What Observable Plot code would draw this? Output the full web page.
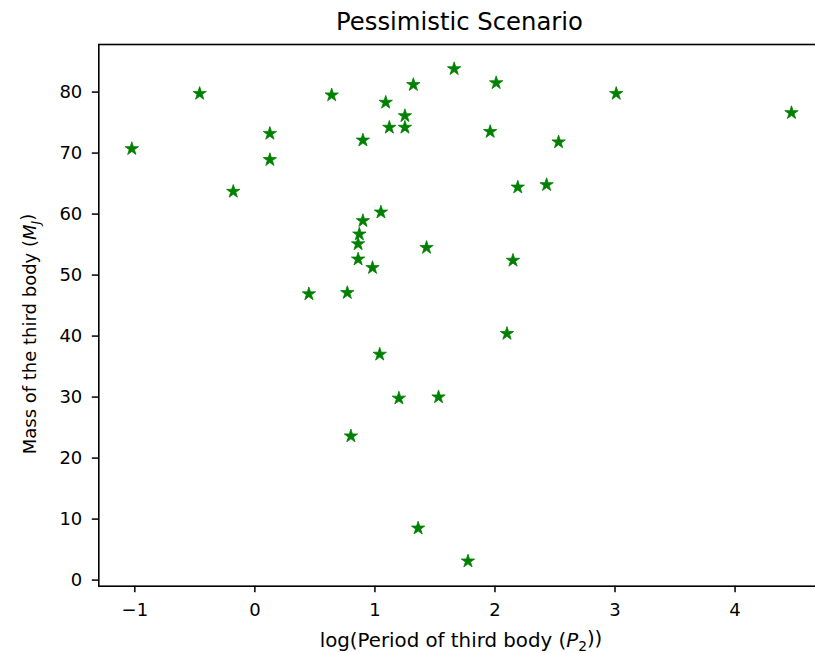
<!DOCTYPE html>
<html>
<head>
<meta charset="utf-8">
<script src="https://cdn.jsdelivr.net/npm/d3@7"></script>
<script src="https://cdn.jsdelivr.net/npm/@observablehq/plot@0.6"></script>
<style>
  html, body { margin: 0; padding: 0; background: #fff; overflow: hidden; }
  body { font-family: "DejaVu Sans", sans-serif; width: 815px; height: 653px; }
  #title {
    width: 815px; height: 38px; box-sizing: border-box;
    padding-top: 6px; padding-left: 104px;
    line-height: 32px; font-size: 24.3px; color: #000; text-align: center;
    white-space: nowrap;
  }
  #chart svg { display: block; }
</style>
</head>
<body>
<div id="title">Pessimistic Scenario</div>
<div id="chart"></div>
<script>
// log(Period of third body (P2))
const logPeriod = [
  -1.025, -0.46, -0.18, 0.125, 0.125, 0.45, 0.64, 0.77, 0.80, 0.86,
  0.86, 0.87, 0.90, 0.90, 0.98, 1.04, 1.05, 1.09, 1.12, 1.20,
  1.25, 1.25, 1.32, 1.36, 1.43, 1.53, 1.66, 1.775, 1.96, 2.01,
  2.10, 2.15, 2.19, 2.43, 2.53, 3.01, 4.47
];
// Mass of the third body (MJ)
const mass = [
  70.7, 79.75, 63.7, 73.2, 68.9, 46.9, 79.5, 47.1, 23.6, 52.6,
  55.1, 56.7, 58.9, 72.1, 51.2, 37.0, 60.3, 78.3, 74.2, 29.8,
  76.1, 74.2, 81.2, 8.5, 54.5, 30.0, 83.8, 3.1, 73.5, 81.5,
  40.4, 52.4, 64.4, 64.8, 71.8, 79.75, 76.6
];
const xTicks = [-1, 0, 1, 2, 3, 4];
const yTicks = [0, 10, 20, 30, 40, 50, 60, 70, 80];
const xDomain = [-1.3, 4.72];
const yDomain = [-1.0, 87.8];

const points = logPeriod.map((x, i) => ({x, y: mass[i]}));
const fmt = d => (d < 0 ? "\u2212" + Math.abs(d) : String(d));

const plot = Plot.plot({
  width: 815,
  height: 615,
  marginLeft: 98.3,
  marginRight: -6,
  marginTop: 6,
  marginBottom: 67.3,
  style: {fontFamily: "DejaVu Sans, sans-serif", fontSize: "18px", color: "#000", background: "#fff"},
  x: {domain: xDomain, label: null},
  y: {domain: yDomain, label: null},
  marks: [
    Plot.dot(points, {x: "x", y: "y", symbol: "star", r: 4.2, fill: "green", stroke: "green", strokeWidth: 0.8}),
    Plot.axisX({ticks: xTicks, tickFormat: fmt, tickSize: 6.5, tickPadding: 11, strokeWidth: 1.5, label: null}),
    Plot.axisY({ticks: yTicks, tickFormat: fmt, tickSize: 6.5, tickPadding: 10, strokeWidth: 1.5, label: null}),
    Plot.frame({stroke: "#000", strokeWidth: 1.6})
  ]
});

document.getElementById("chart").appendChild(plot);

const svg = d3.select(plot);
// x-axis label
const xl = svg.append("text")
  .attr("x", 461).attr("y", 608.5)
  .attr("text-anchor", "middle")
  .attr("font-family", "DejaVu Sans, sans-serif")
  .attr("font-size", 19.8).attr("fill", "#000");
xl.append("tspan").text("log(Period of third body (");
xl.append("tspan").attr("font-style", "italic").text("P");
xl.append("tspan").attr("font-size", 13.8).attr("dy", "0.3em").text("2");
xl.append("tspan").attr("dy", "-0.3em").text("))");

// y-axis label
const yl = svg.append("text")
  .attr("transform", "translate(36,296) rotate(-90)")
  .attr("text-anchor", "middle")
  .attr("font-family", "DejaVu Sans, sans-serif")
  .attr("font-size", 18).attr("fill", "#000");
yl.append("tspan").text("Mass of the third body (");
yl.append("tspan").attr("font-style", "italic").text("M");
yl.append("tspan").attr("font-size", 12.6).attr("font-style", "italic").attr("dy", "0.3em").text("J");
yl.append("tspan").attr("dy", "-0.3em").text(")");
</script>
</body>
</html>
